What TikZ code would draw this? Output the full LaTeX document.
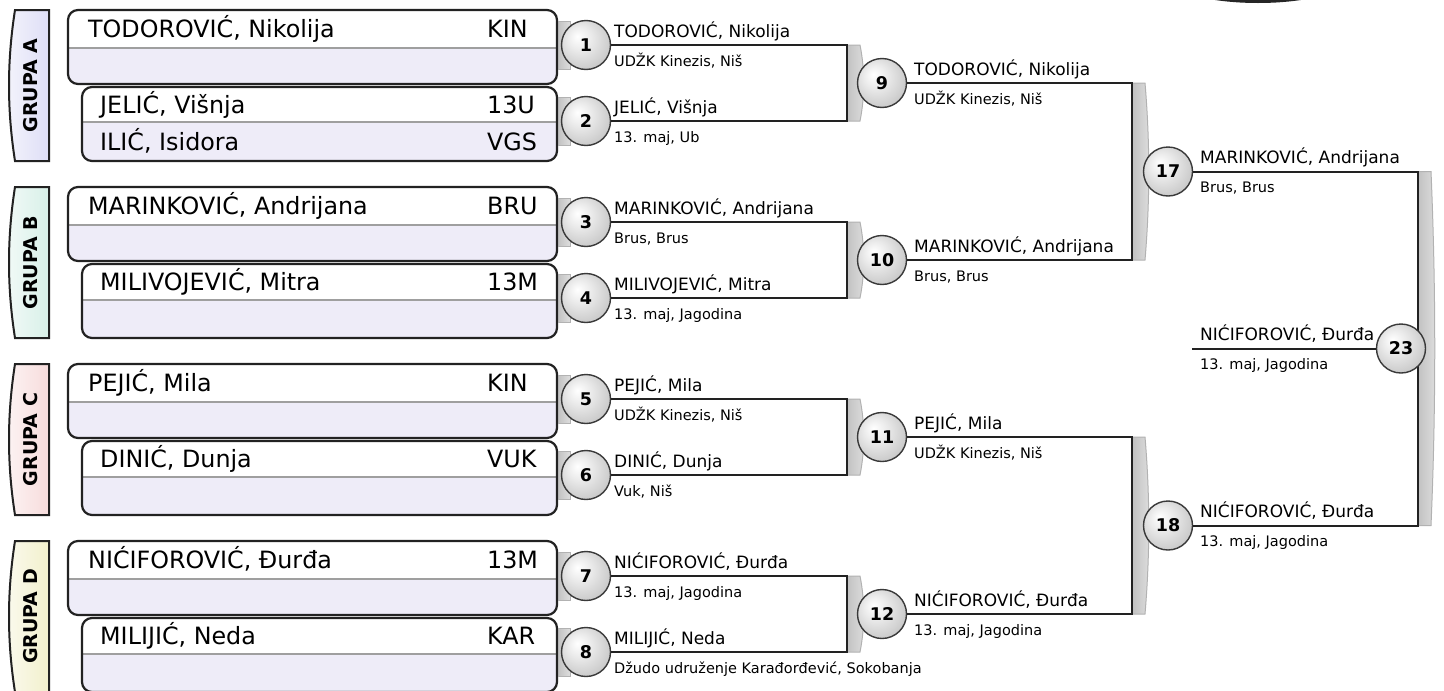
\documentclass[tikz,border=0pt]{standalone}
\usepackage{fontspec}
\setmainfont{DejaVu Sans}
\usetikzlibrary{calc}
\definecolor{lav}{HTML}{EEECF8}
\definecolor{tabA}{HTML}{DEDEF6}
\definecolor{tabB}{HTML}{D8F0E8}
\definecolor{tabC}{HTML}{F7DCDC}
\definecolor{tabD}{HTML}{F2F0CC}
\definecolor{ink}{HTML}{222222}
\pgfdeclareradialshading{sphere}{\pgfpoint{-9bp}{9bp}}{color(0bp)=(white); color(12bp)=(white!92!black); color(28bp)=(white!80!black); color(40bp)=(white!66!black); color(50bp)=(white!58!black)}
\tikzset{
 boxline/.style={draw=ink, line width=2.2},
 divline/.style={draw=gray!75, line width=1.2},
 bigtxt/.style={font=\fontsize{23.8}{26}\selectfont, anchor=base west, inner sep=0},
 midtxt/.style={font=\fontsize{17}{19}\selectfont, anchor=base west, inner sep=0},
 smalltxt/.style={font=\fontsize{14.5}{16}\selectfont, anchor=base west, inner sep=0},
 tabtxt/.style={font=\bfseries\fontsize{19}{21}\selectfont, rotate=90, inner sep=0},
 match/.style={circle, minimum size=49, inner sep=0, draw=gray!45!black, line width=1.4, shading=sphere, font=\bfseries\fontsize{17.5}{19}\selectfont},
 conn/.style={draw=ink, line width=2},
 brk/.style={draw=gray!60, line width=1, left color=gray!48, right color=gray!26},
}
\newcommand{\grouptab}[3]{%
 \path[draw=ink, line width=2, left color=#2!35, right color=#2] (15,#1) -- (49,#1) -- (49,{#1+151}) -- (15,{#1+151}) .. controls (7,{#1+100}) and (7,{#1+51}) .. (15,#1) -- cycle;
 \node[tabtxt] (tab#3) at (31,{#1+75.5}) {GRUPA #3};}
\newcommand{\pbox}[3]{% left, top, divider offset
 \fill[lav, rounded corners=10] (#1,#2) rectangle (557,{#2+74});
 \fill[white, rounded corners=10] (#1,{#2+#3}) -- (#1,#2) -- (557,#2) -- (557,{#2+#3});
 \draw[divline] ({#1+1},{#2+#3}) -- (556,{#2+#3});
 \draw[boxline, rounded corners=10] (#1,#2) rectangle (557,{#2+74});}
\newcommand{\gbrk}[3]{%
 \path[brk] (#1,#2) -- ({#1+13},#2) .. controls ({#1+18},{#2+(#3-#2)/3}) and ({#1+18},{#2+2*(#3-#2)/3}) .. ({#1+13},#3) -- (#1,#3) -- cycle;}
\newcommand{\stub}[1]{\draw[brk] (558,{#1-24}) rectangle (570,{#1+24});}
\begin{document}
\begin{tikzpicture}[x=1pt,y=-1pt]
\useasboundingbox (0,0) rectangle (1444,691);
\fill[white] (0,0) rectangle (1444,691);
% partial dark shape at the top edge
\fill[black!85] (1258,-22) ellipse [x radius=90, y radius=25];

% group tabs
\grouptab{10}{tabA}{A}
\grouptab{187}{tabB}{B}
\grouptab{364}{tabC}{C}
\grouptab{541}{tabD}{D}

% player boxes
\pbox{68}{10}{38}
\pbox{82}{87}{35}
\pbox{68}{187}{38}
\pbox{82}{264}{36}
\pbox{68}{364}{38}
\pbox{82}{441}{36}
\pbox{68}{541}{38}
\pbox{82}{618}{36}

\node[bigtxt] (pa1) at (88,37) {TODOROVIĆ, Nikolija};
\node[bigtxt] (ca1) at (487,37) {KIN};
\node[bigtxt] (pa2) at (100,113) {JELIĆ, Višnja};
\node[bigtxt] (ca2) at (487,113) {13U};
\node[bigtxt] (pa3) at (100,150) {ILIĆ, Isidora};
\node[bigtxt] (ca3) at (487,150) {VGS};
\node[bigtxt] (pb1) at (88,214) {MARINKOVIĆ, Andrijana};
\node[bigtxt] (cb1) at (487,214) {BRU};
\node[bigtxt] (pb2) at (100,290) {MILIVOJEVIĆ, Mitra};
\node[bigtxt] (cb2) at (487,290) {13M};
\node[bigtxt] (pc1) at (88,391) {PEJIĆ, Mila};
\node[bigtxt] (cc1) at (487,391) {KIN};
\node[bigtxt] (pc2) at (100,467) {DINIĆ, Dunja};
\node[bigtxt] (cc2) at (487,467) {VUK};
\node[bigtxt] (pd1) at (88,568) {NIĆIFOROVIĆ, Đurđa};
\node[bigtxt] (cd1) at (487,568) {13M};
\node[bigtxt] (pd2) at (100,644) {MILIJIĆ, Neda};
\node[bigtxt] (cd2) at (487,644) {KAR};

% stubs behind first-round circles
\stub{45}\stub{121}\stub{222}\stub{298}\stub{399}\stub{475}\stub{576}\stub{652}

% bracket coordinates
\coordinate (b1) at (847,0);
\coordinate (b2) at (1132,0);
\coordinate (b3) at (1418,0);
\coordinate (f) at (1192,348.5);

% grey brackets
\gbrk{847}{45}{121}
\gbrk{847}{222}{298}
\gbrk{847}{399}{475}
\gbrk{847}{576}{652}
\gbrk{1132}{83}{260}
\gbrk{1132}{437}{614}
\gbrk{1418}{171.5}{525.5}

% match circles
\node[match] (m1) at (586,45) {1};
\node[match] (m2) at (586,121) {2};
\node[match] (m3) at (586,222) {3};
\node[match] (m4) at (586,298) {4};
\node[match] (m5) at (586,399) {5};
\node[match] (m6) at (586,475) {6};
\node[match] (m7) at (586,576) {7};
\node[match] (m8) at (586,652) {8};
\node[match] (m9) at (882,83) {9};
\node[match] (m10) at (882,260) {10};
\node[match] (m11) at (882,437) {11};
\node[match] (m12) at (882,614) {12};
\node[match] (m17) at (1168,171.5) {17};
\node[match] (m18) at (1168,525.5) {18};

% connectors
\draw[conn] (m1.east) -- (m1.east -| b1) |- (m2.east);
\draw[conn] (m3.east) -- (m3.east -| b1) |- (m4.east);
\draw[conn] (m5.east) -- (m5.east -| b1) |- (m6.east);
\draw[conn] (m7.east) -- (m7.east -| b1) |- (m8.east);
\draw[conn] (m9.east) -- (m9.east -| b2) |- (m10.east);
\draw[conn] (m11.east) -- (m11.east -| b2) |- (m12.east);
\draw[conn] (m17.east) -- (m17.east -| b3) |- (m18.east);
\node[match] (m23) at (1401,348.5) {23};
\draw[conn] (f) -- (m23.west);

% round 1 labels
\node[midtxt] (n1) at (614,37) {TODOROVIĆ, Nikolija};
\node[smalltxt] (k1) at (614,66) {UDŽK Kinezis, Niš};
\node[midtxt] (n2) at (614,113) {JELIĆ, Višnja};
\node[smalltxt] (k2) at (614,142) {13. maj, Ub};
\node[midtxt] (n3) at (614,214) {MARINKOVIĆ, Andrijana};
\node[smalltxt] (k3) at (614,243) {Brus, Brus};
\node[midtxt] (n4) at (614,290) {MILIVOJEVIĆ, Mitra};
\node[smalltxt] (k4) at (614,319) {13. maj, Jagodina};
\node[midtxt] (n5) at (614,391) {PEJIĆ, Mila};
\node[smalltxt] (k5) at (614,420) {UDŽK Kinezis, Niš};
\node[midtxt] (n6) at (614,467) {DINIĆ, Dunja};
\node[smalltxt] (k6) at (614,496) {Vuk, Niš};
\node[midtxt] (n7) at (614,568) {NIĆIFOROVIĆ, Đurđa};
\node[smalltxt] (k7) at (614,597) {13. maj, Jagodina};
\node[midtxt] (n8) at (614,644) {MILIJIĆ, Neda};
\node[smalltxt] (k8) at (614,673) {Džudo udruženje Karađorđević, Sokobanja};
% round 2 labels
\node[midtxt] (n9) at (914,75) {TODOROVIĆ, Nikolija};
\node[smalltxt] (k9) at (914,104) {UDŽK Kinezis, Niš};
\node[midtxt] (n10) at (914,252) {MARINKOVIĆ, Andrijana};
\node[smalltxt] (k10) at (914,281) {Brus, Brus};
\node[midtxt] (n11) at (914,429) {PEJIĆ, Mila};
\node[smalltxt] (k11) at (914,458) {UDŽK Kinezis, Niš};
\node[midtxt] (n12) at (914,606) {NIĆIFOROVIĆ, Đurđa};
\node[smalltxt] (k12) at (914,635) {13. maj, Jagodina};
% round 3 labels
\node[midtxt] (n17) at (1200,163.5) {MARINKOVIĆ, Andrijana};
\node[smalltxt] (k17) at (1200,192.5) {Brus, Brus};
\node[midtxt] (n18) at (1200,517.5) {NIĆIFOROVIĆ, Đurđa};
\node[smalltxt] (k18) at (1200,546.5) {13. maj, Jagodina};
% final
\node[midtxt] (n23) at (1200,340.5) {NIĆIFOROVIĆ, Đurđa};
\node[smalltxt] (k23) at (1200,369.5) {13. maj, Jagodina};
\end{tikzpicture}
\end{document}
